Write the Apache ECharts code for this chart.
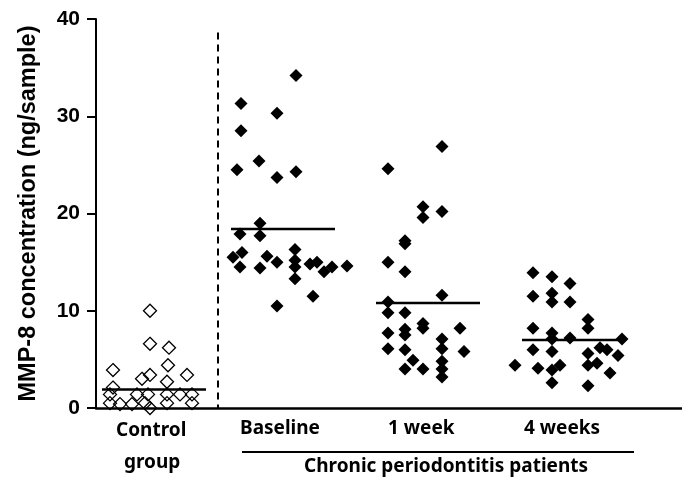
<!DOCTYPE html>
<html>
<head>
<meta charset="utf-8">
<script src="https://cdn.jsdelivr.net/npm/echarts@6/dist/echarts.min.js"></script>
<style>
  html, body { margin: 0; padding: 0; background: #fff; }
  #chart { width: 682px; height: 486px; }
</style>
</head>
<body>
<div id="chart"></div>
<script>
'use strict';

// MMP-8 values (ng/sample)
var controlVals  = [10.0, 6.6, 6.2, 4.4, 3.9, 3.4, 3.4, 3.0, 2.7, 2.1, 1.4, 1.4, 1.4, 1.4, 1.4, 1.4, 0.5, 0.4, 0.4, 0.5, 0.5, 0.5, 0.0];
var controlPos   = [5.4, 5.4, 7.3, 7.2, 1.7, 9.1, 5.4, 4.6, 7.1, 1.7, 1.4, 4.1, 5.2, 7.1, 8.4, 9.6, 1.4, 2.4, 3.6, 4.9, 7.1, 9.6, 5.4];

var baselineVals = [34.2, 31.3, 30.3, 28.5, 25.4, 24.5, 23.7, 24.3, 19.0, 17.9, 17.7, 16.0, 15.5, 14.5, 15.6, 14.4, 15.0, 16.3, 15.2, 14.5, 13.3, 14.8, 15.0, 14.0, 14.5, 14.6, 11.5, 10.5];
var baselinePos  = [20.0, 14.5, 18.1, 14.5, 16.3, 14.1, 18.1, 20.0, 16.4, 14.4, 16.4, 14.6, 13.7, 14.4, 17.1, 16.4, 18.1, 19.9, 19.9, 19.9, 19.9, 21.4, 22.1, 22.8, 23.6, 25.1, 21.7, 18.1];

var week1Vals    = [26.9, 24.6, 20.7, 19.6, 20.2, 17.2, 16.9, 15.0, 14.0, 11.6, 10.9, 9.8, 9.8, 8.7, 8.2, 8.2, 7.7, 8.1, 7.5, 7.1, 6.1, 6.0, 6.1, 5.8, 4.9, 4.8, 4.0, 4.0, 4.0, 3.2];
var week1Pos     = [34.6, 29.2, 32.7, 32.7, 34.6, 30.9, 30.9, 29.2, 30.9, 34.6, 29.2, 29.2, 30.9, 32.7, 32.7, 36.4, 29.2, 30.9, 30.9, 34.6, 29.2, 30.9, 34.6, 36.8, 31.7, 34.6, 30.9, 32.7, 34.6, 34.6];

var week4Vals    = [13.9, 13.5, 12.8, 11.5, 11.8, 10.9, 10.9, 9.1, 8.2, 8.2, 7.7, 7.1, 7.2, 7.1, 6.2, 6.0, 6.0, 5.8, 5.6, 5.4, 4.4, 4.1, 4.4, 3.9, 4.4, 4.6, 3.6, 2.6, 2.3];
var week4Pos     = [43.7, 45.6, 47.4, 43.7, 45.6, 45.6, 47.4, 49.2, 49.2, 43.7, 45.6, 45.6, 47.4, 52.6, 50.4, 51.1, 43.7, 45.6, 49.2, 52.2, 41.9, 44.2, 46.4, 45.6, 49.2, 50.1, 51.4, 45.6, 49.2];

// medians and the x span of each median bar
var medians     = [1.9, 18.4, 10.8, 7.0];
var medianStart = [0.6, 13.5, 28.0, 42.6];
var medianEnd   = [11.0, 23.9, 38.4, 52.6];

var groupLabels = ['Control', 'Baseline', '1 week', '4 weeks'];
var yTicks = [0, 10, 20, 30, 40];
var dividerX = 12.2;

function pairs(xs, ys) {
  var out = [];
  for (var i = 0; i < ys.length; i++) {
    out.push([xs[i], ys[i]]);
  }
  return out;
}

var chart = echarts.init(document.getElementById('chart'));

var filled = { color: '#000', borderWidth: 0, opacity: 1 };
var series = [
  {
    type: 'scatter', symbol: 'diamond', symbolSize: 13,
    data: pairs(controlPos, controlVals),
    itemStyle: { color: 'rgba(0,0,0,0)', borderColor: '#000', borderWidth: 1.3, opacity: 1 },
    z: 3
  },
  { type: 'scatter', symbol: 'diamond', symbolSize: 13, data: pairs(baselinePos, baselineVals), itemStyle: filled, z: 3 },
  { type: 'scatter', symbol: 'diamond', symbolSize: 13, data: pairs(week1Pos, week1Vals), itemStyle: filled, z: 3 },
  { type: 'scatter', symbol: 'diamond', symbolSize: 13, data: pairs(week4Pos, week4Vals), itemStyle: filled, z: 3 }
];

for (var i = 0; i < medians.length; i++) {
  series.push({
    type: 'line', symbol: 'none', silent: true,
    data: [[medianStart[i], medians[i]], [medianEnd[i], medians[i]]],
    lineStyle: { color: '#000', width: 2.5 },
    z: 4
  });
}

// dashed divider between control and patient groups
series.push({
  type: 'line', symbol: 'none', silent: true,
  data: [[dividerX, 38.6], [dividerX, 0]],
  lineStyle: { color: '#000', width: 2, type: [7, 5] },
  z: 2
});

var labelFont = { fontFamily: 'Noto Sans', fontWeight: 'bold', fontSize: 19, fill: '#000' };

function label(text, x, y) {
  return { type: 'text', left: x, top: y, style: Object.assign({ text: text }, labelFont) };
}

var option = {
  backgroundColor: '#fff',
  animation: false,
  grid: { left: 96, right: 0, top: 19, bottom: 78 },
  xAxis: {
    type: 'value', min: 0, max: 58.6,
    axisLine: { show: true, onZero: false, lineStyle: { color: '#000', width: 2.5 } },
    axisTick: { show: false },
    axisLabel: { show: false },
    splitLine: { show: false }
  },
  yAxis: {
    type: 'value', min: yTicks[0], max: yTicks[yTicks.length - 1], interval: 10,
    name: 'MMP-8 concentration (ng/sample)',
    nameLocation: 'middle', nameRotate: 90, nameGap: 55,
    nameTextStyle: { fontFamily: 'Liberation Sans', fontWeight: 'bold', fontSize: 23.5, color: '#000' },
    axisLine: { show: true, lineStyle: { color: '#000', width: 2 } },
    axisTick: { show: true, length: 9, lineStyle: { color: '#000', width: 2 } },
    axisLabel: { fontFamily: 'Liberation Sans', fontWeight: 'bold', fontSize: 21, color: '#000', margin: 16 },
    splitLine: { show: false }
  },
  series: series,
  graphic: [
    label(groupLabels[0], 116, 421),
    label('group', 124, 453),
    label(groupLabels[1], 240, 419),
    label(groupLabels[2], 388, 419),
    label(groupLabels[3], 524, 419),
    { type: 'line', shape: { x1: 242, y1: 452, x2: 634, y2: 452 }, style: { stroke: '#000', lineWidth: 2 } },
    label('Chronic periodontitis patients', 304, 457)
  ]
};

chart.setOption(option);
</script>
</body>
</html>
